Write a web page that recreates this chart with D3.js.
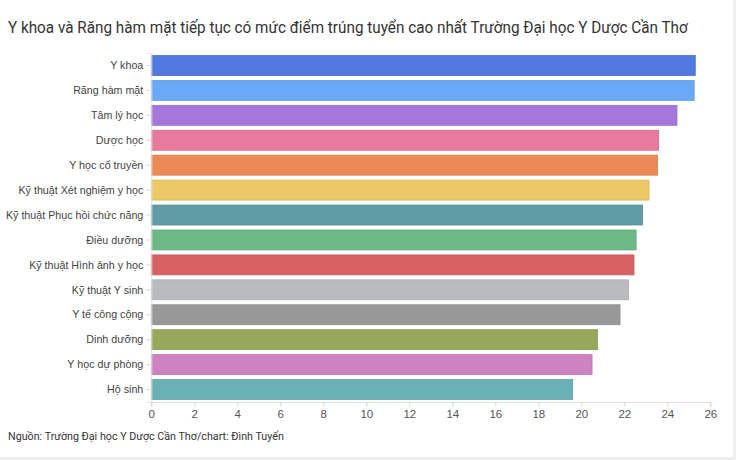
<!DOCTYPE html>
<html>
<head>
<meta charset="utf-8">
<script src="https://cdn.jsdelivr.net/npm/d3@7"></script>
<style>
  body { margin: 0; background: #efefef; }
  svg { display: block; font-family: Roboto, "Noto Sans", sans-serif; }
</style>
</head>
<body>
<svg id="chart" width="736" height="460"></svg>
<script>
// nganh hoc va diem trung tuyen (doc tu hinh)
var categories = ["Y khoa", "Răng hàm mặt", "Tâm lý học", "Dược học", "Y học cổ truyền",
  "Kỹ thuật Xét nghiệm y học", "Kỹ thuật Phục hồi chức năng", "Điều dưỡng",
  "Kỹ thuật Hình ảnh y học", "Kỹ thuật Y sinh", "Y tế công cộng", "Dinh dưỡng",
  "Y học dự phòng", "Hộ sinh"];
var scores = [25.3, 25.25, 24.45, 23.6, 23.55, 23.15, 22.85, 22.55, 22.45, 22.2, 21.8, 20.75, 20.5, 19.6];
var barColors = ["#5279e0", "#6aa8f8", "#a577db", "#e8799f", "#ec8a55", "#ecc866", "#5f9ca6",
  "#6db986", "#d66062", "#b9bbbf", "#989898", "#97a75c", "#ce82c1", "#6ab1b6"];
var xTicks = [0, 2, 4, 6, 8, 10, 12, 14, 16, 18, 20, 22, 24, 26];

var svg = d3.select("#chart");

// squeeze text a bit, the original font is narrower
function squeeze(sel, factor) {
  sel.each(function() {
    var len = this.getComputedTextLength();
    d3.select(this).attr("textLength", len * factor).attr("lengthAdjust", "spacingAndGlyphs");
  });
}

// put a text at (px,py) and shrink it horizontally so it is at most maxW wide
function fitText(str, px, py, size, color, maxW) {
  var g = svg.append("g");
  var t = g.append("text")
    .attr("font-size", size)
    .attr("fill", color)
    .text(str);
  var len = t.node().getComputedTextLength();
  var k = len > maxW ? maxW / len : 1;
  g.attr("transform", "translate(" + px + "," + py + ") scale(" + k + ",1)");
  return t;
}

// the white card
svg.append("rect")
  .attr("x", 0).attr("y", 0)
  .attr("width", 733).attr("height", 457)
  .attr("fill", "#fff");

var x = d3.scaleLinear().domain([0, 26]).range([151.3, 710.3]);
var y = d3.scaleBand().domain(categories).range([53, 402])
  .paddingInner(0.2).paddingOuter(0.1);

// title
fitText("Y khoa và Răng hàm mặt tiếp tục có mức điểm trúng tuyển cao nhất Trường Đại học Y Dược Cần Thơ",
  8, 33, 17, "#333", 680);

// bars
svg.append("g").selectAll("rect")
  .data(scores)
  .enter().append("rect")
  .attr("x", x(0))
  .attr("y", function(d, i) { return y(categories[i]); })
  .attr("width", function(d) { return x(d) - x(0); })
  .attr("height", y.bandwidth())
  .attr("fill", function(d, i) { return barColors[i]; })
  .attr("stroke", function(d, i) { return d3.color(barColors[i]).darker(0.25); })
  .attr("stroke-width", 0.8);

// left axis
var yAxis = svg.append("g")
  .attr("transform", "translate(" + x(0) + ",0)")
  .call(d3.axisLeft(y).tickSize(5).tickPadding(3));
yAxis.select(".domain").attr("stroke", "#e4e4e4");
yAxis.selectAll(".tick line").attr("stroke", "#d8d8d8");
yAxis.selectAll("text").attr("font-size", 11.5).attr("fill", "#444")
  .attr("font-family", "inherit");
squeeze(yAxis.selectAll("text"), 0.93);

// bottom axis
var xAxis = svg.append("g")
  .attr("transform", "translate(0,402)")
  .call(d3.axisBottom(x).tickValues(xTicks).tickSize(5).tickPadding(3));
xAxis.select(".domain").attr("stroke", "#e4e4e4");
xAxis.selectAll(".tick line").attr("stroke", "#d8d8d8");
xAxis.selectAll("text").attr("font-size", 11.5).attr("fill", "#555")
  .attr("font-family", "inherit");

// source
fitText("Nguồn: Trường Đại học Y Dược Cần Thơ/chart: Đình Tuyến", 8, 440, 11.5, "#333", 276);
</script>
</body>
</html>
